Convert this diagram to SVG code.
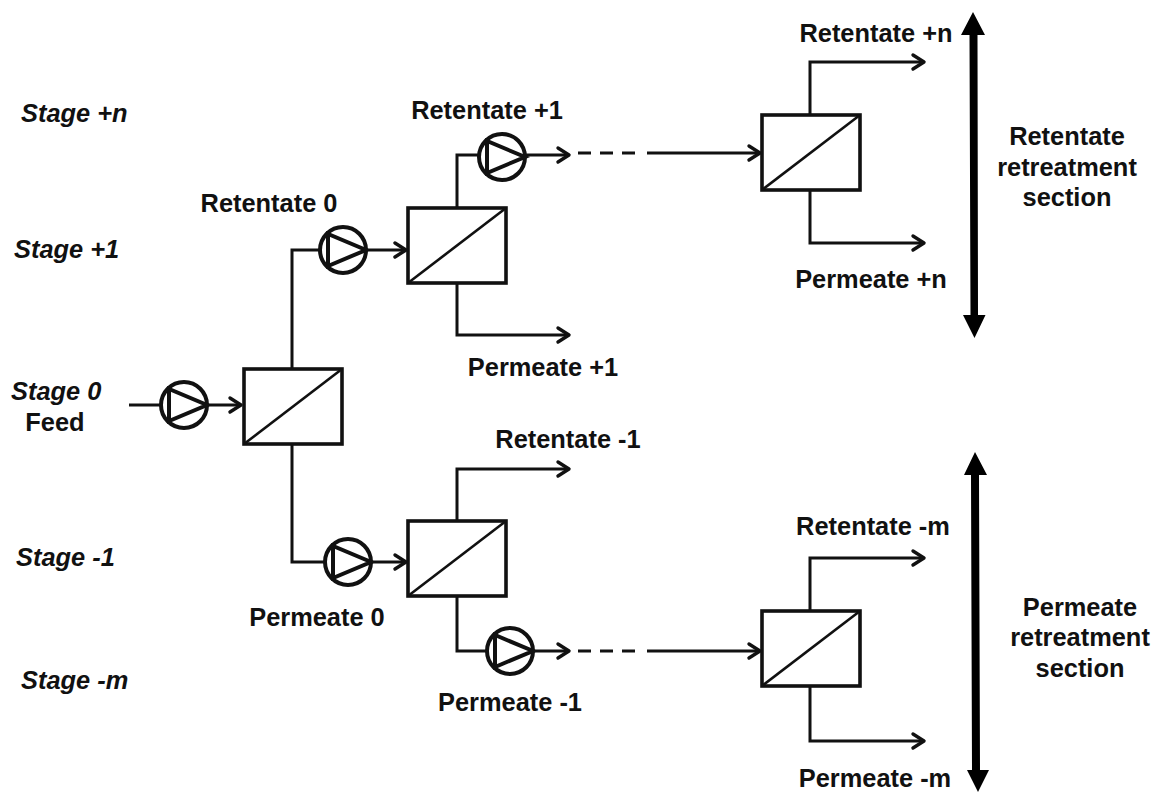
<svg xmlns="http://www.w3.org/2000/svg" xmlns:xlink="http://www.w3.org/1999/xlink" width="1155" height="792" viewBox="0 0 1155 792">
<style>
text{font-family:"Liberation Sans",Arial,sans-serif;font-weight:bold;font-size:25.4px;fill:#111;text-anchor:middle}
.stage{font-style:italic;text-anchor:start}
.c{fill:none;stroke:#111;stroke-width:3}
.d{fill:none;stroke:#111;stroke-width:3;stroke-dasharray:13 9}
.h{fill:none;stroke:#111;stroke-width:3.4;stroke-linecap:round;stroke-linejoin:round}
.box{fill:#fff;stroke:#111;stroke-width:3.6}
.thin{fill:none;stroke:#111;stroke-width:2.6}
.pump{fill:#fff;stroke:#111;stroke-width:4}
</style>
<defs>
<g id="pump"><circle class="pump" r="23"/><path class="pump" style="fill:none" d="M-15,-16V16L23,0Z"/></g>
<g id="module"><rect class="box" width="98" height="75"/><path class="thin" d="M0,75L98,0"/></g>
<path id="head" class="h" d="M-11,-7L0,0L-11,7"/>
</defs>
<rect width="1155" height="792" fill="#fff"/>
<g id="connectors">
<path class="c" d="M129,405H161"/><path class="c" d="M207,405H240"/><use xlink:href="#head" x="241" y="405"/>
<path class="c" d="M292,369V250H320"/><path class="c" d="M366,250H405"/><use xlink:href="#head" x="406" y="250"/>
<path class="c" d="M292,444V562H325"/><path class="c" d="M371,562H405"/><use xlink:href="#head" x="406" y="562"/>
<path class="c" d="M457,208V155H479"/><path class="c" d="M525,155H568"/><use xlink:href="#head" x="569" y="155"/>
<path class="d" d="M578,153H636"/><path class="c" d="M647,153H759"/><use xlink:href="#head" x="760" y="153"/>
<path class="c" d="M457,284V335H568"/><use xlink:href="#head" x="569" y="335"/>
<path class="c" d="M457,521V469H568"/><use xlink:href="#head" x="569" y="469"/>
<path class="c" d="M457,597V651H487"/><path class="c" d="M533,651H568"/><use xlink:href="#head" x="569" y="651"/>
<path class="d" d="M578,651H636"/><path class="c" d="M647,651H759"/><use xlink:href="#head" x="760" y="651"/>
<path class="c" d="M810,115V62H923"/><use xlink:href="#head" x="924" y="62"/>
<path class="c" d="M810,190V243H923"/><use xlink:href="#head" x="924" y="243"/>
<path class="c" d="M810,611V558H923"/><use xlink:href="#head" x="924" y="558"/>
<path class="c" d="M810,687V741H923"/><use xlink:href="#head" x="924" y="741"/>
<path fill="#000" d="M973,12L961,35H969.500L970.500,315H963L974.500,338L985.500,315H978L977.500,35H985Z"/>
<path fill="#000" d="M975,452L964,475H971L972,770H967L978,792L989,770H980L979,475H987Z"/>
</g>
<g id="pump-feed"><use xlink:href="#pump" x="184" y="405"/></g>
<g id="pump-ret0"><use xlink:href="#pump" x="343" y="250"/></g>
<g id="pump-ret1"><use xlink:href="#pump" x="502" y="157"/></g>
<g id="pump-per0"><use xlink:href="#pump" x="348" y="562"/></g>
<g id="pump-per1"><use xlink:href="#pump" x="510" y="651"/></g>
<g id="module-0"><use xlink:href="#module" x="244" y="369"/></g>
<g id="module-p1"><use xlink:href="#module" x="408" y="208"/></g>
<g id="module-pn"><use xlink:href="#module" x="762" y="115"/></g>
<g id="module-m1"><use xlink:href="#module" x="408" y="521"/></g>
<g id="module-mm"><use xlink:href="#module" x="762" y="611"/></g>
<g id="labels">
<text class="stage" x="21" y="122">Stage +n</text>
<text class="stage" x="14" y="258">Stage +1</text>
<text class="stage" x="11" y="400">Stage 0</text>
<text x="55" y="431">Feed</text>
<text class="stage" x="16" y="566">Stage -1</text>
<text class="stage" x="21" y="689">Stage -m</text>
<text x="269" y="212">Retentate 0</text>
<text x="487" y="119">Retentate +1</text>
<text x="876" y="42">Retentate +n</text>
<text x="871" y="288">Permeate +n</text>
<text x="543" y="376">Permeate +1</text>
<text x="568" y="448">Retentate -1</text>
<text x="873" y="535">Retentate -m</text>
<text x="317" y="626">Permeate 0</text>
<text x="510" y="711">Permeate -1</text>
<text x="875" y="787">Permeate -m</text>
<text x="1067" y="145">Retentate</text>
<text x="1067" y="176">retreatment</text>
<text x="1067" y="206">section</text>
<text x="1080" y="616">Permeate</text>
<text x="1080" y="646">retreatment</text>
<text x="1080" y="677">section</text>
</g>
</svg>
